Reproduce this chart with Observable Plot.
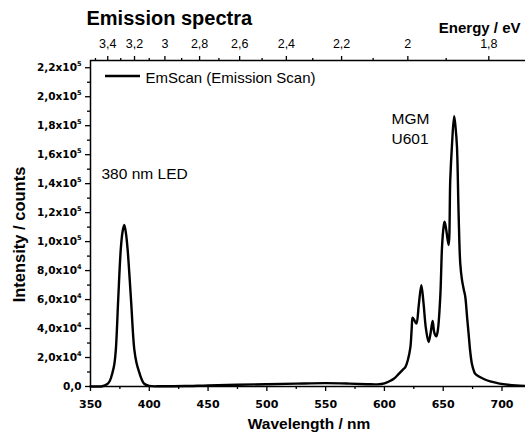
<!DOCTYPE html>
<html>
<head>
<meta charset="utf-8">
<script src="https://cdn.jsdelivr.net/npm/d3@7"></script>
<script src="https://cdn.jsdelivr.net/npm/@observablehq/plot@0.6"></script>
<style>
  body { margin: 0; background: #fff; }
  #chart svg { display: block; }
</style>
</head>
<body>
<div id="chart"></div>
<script>
// Emission scan: wavelength (nm) and intensity (counts)
const wavelength = [
  350, 356, 360, 364, 366.5, 368.8, 370.2, 371.6, 373.6, 375.8, 377.3, 378.7, 380.1, 381.5,
  384.4, 387.2, 389.2, 391.4, 393.5, 395.7, 399.9, 410, 430, 450, 475, 500, 525, 550, 570,
  585, 594, 600, 604, 608, 612, 615.5, 617.8, 620, 622.1, 623.2, 624, 625.3, 627.2, 629.2,
  631.4, 633.2, 635.3, 637.6, 639.5, 641, 642.5, 644.1, 645.3, 647.5, 649, 650.3, 651.2,
  652.6, 654.6, 656, 657.4, 659.3, 660.6, 661.7, 663.1, 664.5, 666, 667.5, 668.8, 670.3,
  671.6, 673, 674.4, 676, 677.2, 680, 685, 690, 698, 705, 712, 720
];
const intensity = [
  0, 0, 200, 1500, 4000, 9900, 15000, 26000, 60700, 95300, 107000, 111500, 106000, 95300,
  60700, 26000, 16000, 9900, 5000, 1900, 400, 150, 300, 800, 1200, 1600, 2000, 2300, 2000,
  1600, 1500, 2200, 3500, 5300, 8500, 11500, 13400, 18500, 27200, 40000, 47500, 46000, 43400, 56000,
  70000, 58000, 40000, 30700, 38000, 45200, 37000, 34600, 38000, 61800, 96400, 110000, 113700,
  108000, 97600, 142600, 165600, 186500, 178000, 165600, 119500, 85000, 73400, 67000, 61800, 48000,
  36500, 24000, 15700, 11000, 8800, 7000, 5000, 3500, 2000, 1200, 700, 400
];

// Bottom axis (wavelength) ticks
const xTicks = [350, 400, 450, 500, 550, 600, 650, 700];
const xMinorTicks = [375, 425, 475, 525, 575, 625, 675];

// Left axis (intensity) ticks and labels
const yTicks = [0, 20000, 40000, 60000, 80000, 100000, 120000, 140000, 160000, 180000, 200000, 220000];
const yTickLabels = ["0,0", "2,0x10^4", "4,0x10^4", "6,0x10^4", "8,0x10^4", "1,0x10^5",
  "1,2x10^5", "1,4x10^5", "1,6x10^5", "1,8x10^5", "2,0x10^5", "2,2x10^5"];
const yMinorTicks = [10000, 30000, 50000, 70000, 90000, 110000, 130000, 150000, 170000, 190000, 210000];

// Top axis (photon energy) ticks and labels
const energyTicks = [3.4, 3.2, 3.0, 2.8, 2.6, 2.4, 2.2, 2.0, 1.8];
const energyTickLabels = ["3,4", "3,2", "3", "2,8", "2,6", "2,4", "2,2", "2", "1,8"];
const energyMinorTicks = [3.5, 3.3, 3.1, 2.9, 2.7, 2.5, 2.3, 2.1, 1.9];

const HC = 1239.84; // eV·nm, E = hc / λ

const spectrum = wavelength.map((w, i) => ({wavelength: w, intensity: intensity[i]}));

const FONT = "'Liberation Sans', Arial, Helvetica, sans-serif";
const TICK_FONT = "'DejaVu Sans', Verdana, sans-serif";

const plot = Plot.plot({
  width: 525,
  height: 433,
  marginTop: 60,
  marginBottom: 47,
  marginLeft: 90,
  marginRight: 0,
  style: {fontFamily: FONT, fontSize: "12px", color: "#000", background: "#fff", overflow: "visible"},
  x: {domain: [350, 720]},
  y: {domain: [0, 225000]},
  marks: [
    // bottom axis
    Plot.axisX({anchor: "bottom", ticks: xTicks, tickSize: 5, tickPadding: 9, strokeWidth: 1.3,
      fontFamily: TICK_FONT, fontWeight: "bold", fontSize: 11, label: null, tickFormat: d => String(d)}),
    Plot.axisX({anchor: "bottom", ticks: xMinorTicks, tickSize: 3, strokeWidth: 1.3,
      label: null, tickFormat: () => ""}),
    // left axis
    Plot.axisY({anchor: "left", ticks: yTicks, tickSize: 5, tickPadding: 4, strokeWidth: 1.3,
      fontFamily: TICK_FONT, fontWeight: "bold", fontSize: 10.5, label: null,
      tickFormat: d => yTickLabels[yTicks.indexOf(d)]}),
    Plot.axisY({anchor: "left", ticks: yMinorTicks, tickSize: 3, strokeWidth: 1.3,
      label: null, tickFormat: () => ""}),
    // top axis: photon energy
    Plot.axisX({anchor: "top", ticks: energyTicks.map(e => HC / e), tickSize: 5, tickPadding: 8,
      strokeWidth: 1.3, fontSize: 12.5, label: null,
      tickFormat: d => energyTickLabels[energyTicks.findIndex(e => Math.abs(HC / e - d) < 1e-6)]}),
    Plot.axisX({anchor: "top", ticks: energyMinorTicks.map(e => HC / e), tickSize: 3, strokeWidth: 1.3,
      label: null, tickFormat: () => ""}),
    // frame lines
    Plot.ruleX([350], {strokeWidth: 1.5}),
    Plot.ruleY([0], {strokeWidth: 1.5}),
    Plot.ruleY([225000], {strokeWidth: 1.5}),
    // emission spectrum
    Plot.line(spectrum, {x: "wavelength", y: "intensity", curve: "catmull-rom",
      stroke: "#000", strokeWidth: 2.4, strokeLinejoin: "round"}),
    // annotations
    Plot.text(["380 nm LED"], {frameAnchor: "top-left", dx: 11, dy: 118, lineAnchor: "bottom",
      textAnchor: "start", fontSize: 15.5, text: d => d}),
    Plot.text(["MGM\nU601"], {frameAnchor: "top-left", dx: 301, dy: 83, lineAnchor: "bottom",
      textAnchor: "start", fontSize: 15.5, lineHeight: 1.27, text: d => d}),
    // legend text
    Plot.text(["EmScan (Emission Scan)"], {frameAnchor: "top-left", dx: 55, dy: 22, lineAnchor: "bottom",
      textAnchor: "start", fontSize: 15, text: d => d}),
    // titles
    Plot.text(["Emission spectra"], {frameAnchor: "top-left", dx: -4, dy: -36, lineAnchor: "bottom",
      textAnchor: "start", fontSize: 20, fontWeight: "bold", text: d => d}),
    Plot.text(["Energy / eV"], {frameAnchor: "top-right", dx: -5, dy: -28, lineAnchor: "bottom",
      textAnchor: "end", fontSize: 15, fontWeight: "bold", text: d => d}),
    Plot.text(["Wavelength / nm"], {frameAnchor: "bottom", dx: 1, dy: 42, lineAnchor: "bottom",
      textAnchor: "middle", fontSize: 15.5, fontWeight: "bold", text: d => d}),
    Plot.text(["Intensity / counts"], {frameAnchor: "left", dx: -71, dy: 11, rotate: -90,
      lineAnchor: "middle", textAnchor: "middle", fontSize: 16.5, fontWeight: "bold", text: d => d})
  ]
});

// Legend swatch for the spectrum line
d3.select(plot).append("line")
  .attr("x1", 105).attr("x2", 140).attr("y1", 76).attr("y2", 76)
  .attr("stroke", "#000").attr("stroke-width", 2.4);

// Scientific-notation exponents as superscripts on the intensity axis
d3.select(plot).selectAll("g[aria-label='y-axis tick label'] text").each(function () {
  const s = this.textContent;
  const k = s.indexOf("^");
  if (k < 0) return;
  this.textContent = s.slice(0, k);
  d3.select(this).append("tspan")
    .attr("font-size", "0.62em")
    .attr("dy", "-0.75em")
    .text(s.slice(k + 1));
});

document.getElementById("chart").append(plot);
</script>
</body>
</html>
